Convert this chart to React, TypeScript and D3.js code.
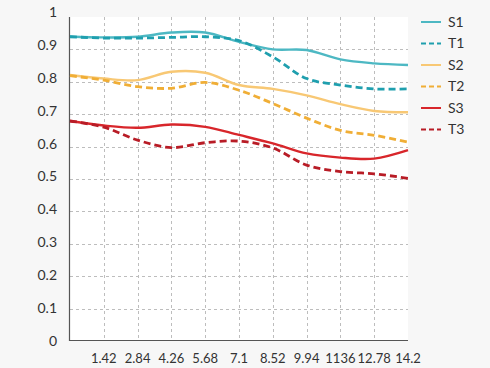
import React, { useEffect, useRef } from 'react';
import * as d3 from 'd3';

const xValues = [0, 1.42, 2.84, 4.26, 5.68, 7.1, 8.52, 9.94, 11.36, 12.78, 14.2];
const xTickLabels = ['1.42', '2.84', '4.26', '5.68', '7.1', '8.52', '9.94', '1136', '12.78', '14.2'];
const yTicks = [0, 0.1, 0.2, 0.3, 0.4, 0.5, 0.6, 0.7, 0.8, 0.9, 1];

const s1 = [0.94, 0.937, 0.939, 0.952, 0.952, 0.923, 0.9, 0.898, 0.869, 0.857, 0.852];
const t1 = [0.939, 0.935, 0.935, 0.937, 0.939, 0.927, 0.877, 0.81, 0.79, 0.778, 0.778];
const s2 = [0.821, 0.81, 0.805, 0.831, 0.828, 0.79, 0.778, 0.758, 0.731, 0.71, 0.706];
const t2 = [0.819, 0.805, 0.785, 0.78, 0.798, 0.774, 0.733, 0.688, 0.65, 0.635, 0.614];
const s3 = [0.679, 0.665, 0.658, 0.668, 0.661, 0.636, 0.61, 0.579, 0.566, 0.563, 0.589];
const t3 = [0.679, 0.66, 0.62, 0.597, 0.612, 0.617, 0.596, 0.543, 0.523, 0.516, 0.502];

const seriesNames = ['S1', 'T1', 'S2', 'T2', 'S3', 'T3'];
const seriesValues = [s1, t1, s2, t2, s3, t3];
const seriesColors = ['#4db8c3', '#1f9fae', '#f8c874', '#f0ae36', '#d8262b', '#b81c26'];
const seriesDashed = [false, true, false, true, false, true];

export default function App() {
    const svgRef = useRef<SVGSVGElement>(null);

    useEffect(() => {
        const svg = d3.select(svgRef.current);
        svg.selectAll('*').remove();

        const width = 490;
        const height = 368;
        const left = 70;
        const right = 408;
        const top = 17;
        const bottom = 341;
        const font = 'Lato, "Open Sans", sans-serif';

        svg.attr('width', width).attr('height', height);

        svg.append('rect')
            .attr('width', width)
            .attr('height', height)
            .attr('fill', '#f7f7f7');

        svg.append('rect')
            .attr('x', left)
            .attr('y', top)
            .attr('width', right - left)
            .attr('height', bottom - top)
            .attr('fill', '#fff');

        const x = d3.scaleLinear().domain([0, 14.2]).range([left, right]);
        const y = d3.scaleLinear().domain([0, 1]).range([bottom, top]);
        // labels drift a little from the grid in the original
        const yLabel = d3.scaleLinear().domain([0, 1]).range([341, 12]);

        // grid
        const grid = svg.append('g')
            .attr('stroke', '#bdbdbd')
            .attr('stroke-width', 1)
            .attr('stroke-dasharray', '3,3');

        grid.selectAll('line.h')
            .data(yTicks.filter((d) => d > 0 && d < 1))
            .join('line')
            .attr('class', 'h')
            .attr('x1', left)
            .attr('x2', right)
            .attr('y1', (d) => Math.round(y(d)) + 0.5)
            .attr('y2', (d) => Math.round(y(d)) + 0.5);

        grid.selectAll('line.v')
            .data(xValues.slice(1, -1))
            .join('line')
            .attr('class', 'v')
            .attr('x1', (d) => Math.round(x(d)) + 0.5)
            .attr('x2', (d) => Math.round(x(d)) + 0.5)
            .attr('y1', top)
            .attr('y2', bottom);

        // axes lines
        svg.append('line')
            .attr('x1', left - 0.5).attr('x2', left - 0.5)
            .attr('y1', top).attr('y2', bottom)
            .attr('stroke', '#555').attr('stroke-width', 1.2);
        svg.append('line')
            .attr('x1', left - 1).attr('x2', right)
            .attr('y1', bottom - 0.5).attr('y2', bottom - 0.5)
            .attr('stroke', '#555').attr('stroke-width', 1.2);

        // y labels
        svg.append('g')
            .selectAll('text')
            .data(yTicks)
            .join('text')
            .attr('x', 57)
            .attr('y', (d) => yLabel(d))
            .attr('dy', '0.35em')
            .attr('text-anchor', 'end')
            .attr('font-family', font)
            .attr('font-size', 14)
            .attr('fill', '#333')
            .text((d) => String(d));

        // x labels
        svg.append('g')
            .selectAll('text')
            .data(xValues.slice(1))
            .join('text')
            .attr('x', (d) => x(d))
            .attr('y', 358)
            .attr('dy', '0.35em')
            .attr('text-anchor', 'middle')
            .attr('font-family', font)
            .attr('font-size', 13)
            .attr('fill', '#333')
            .text((d, i) => xTickLabels[i]);

        // lines
        const line = d3.line<number>()
            .x((d, i) => x(xValues[i]))
            .y((d) => y(d))
            .curve(d3.curveCatmullRom.alpha(0.5));

        seriesValues.forEach((vals, i) => {
            svg.append('path')
                .datum(vals)
                .attr('d', line)
                .attr('fill', 'none')
                .attr('stroke', seriesColors[i])
                .attr('stroke-width', seriesDashed[i] ? 2.8 : 2.4)
                .attr('stroke-dasharray', seriesDashed[i] ? '7,4' : null);
        });

        // legend
        const legend = svg.append('g');
        seriesNames.forEach((name, i) => {
            const ly = 22 + i * 21.5;
            legend.append('line')
                .attr('x1', 421).attr('x2', 441)
                .attr('y1', ly).attr('y2', ly)
                .attr('stroke', seriesColors[i])
                .attr('stroke-width', 2)
                .attr('stroke-dasharray', seriesDashed[i] ? '5,3' : null);
            legend.append('text')
                .attr('x', 448)
                .attr('y', ly)
                .attr('dy', '0.35em')
                .attr('font-family', font)
                .attr('font-size', 14)
                .attr('fill', '#333')
                .text(name);
        });
    }, []);

    return (
        <svg ref={svgRef} style={{ position: 'absolute', left: 0, top: 0, display: 'block' }} />
    );
}
